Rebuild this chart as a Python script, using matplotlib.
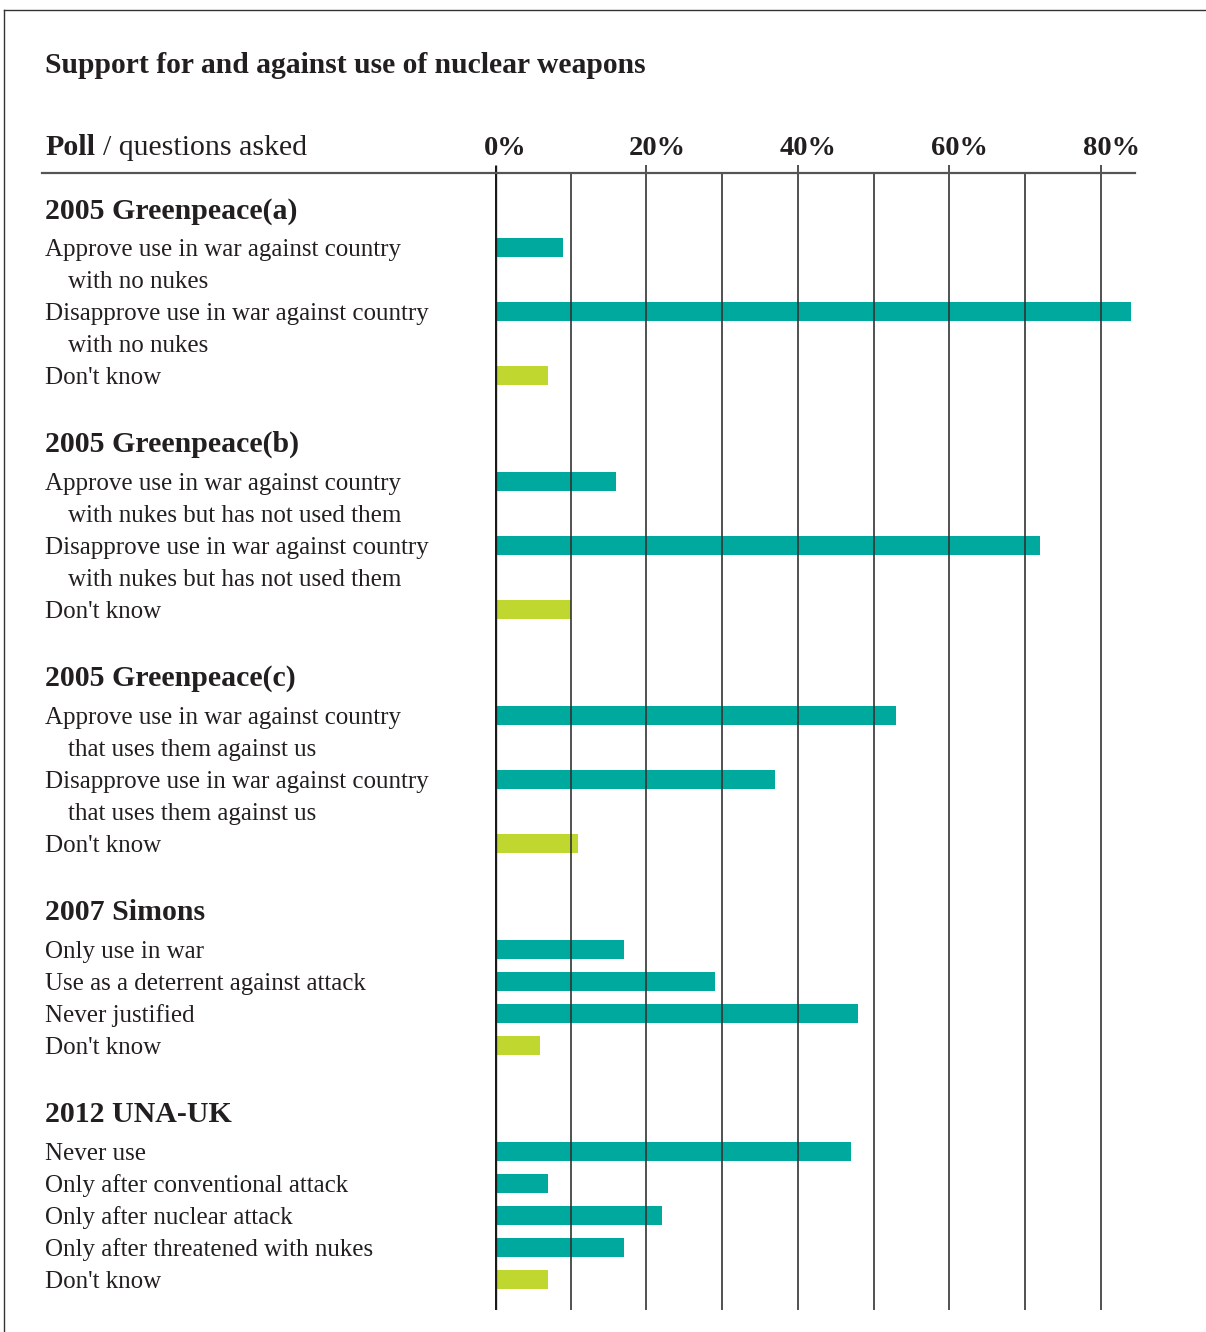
import matplotlib.pyplot as plt
from matplotlib.lines import Line2D

# data
groups = ["2005 Greenpeace(a)", "2005 Greenpeace(b)", "2005 Greenpeace(c)",
          "2007 Simons", "2012 UNA-UK"]
labels = [
    ["Approve use in war against country\nwith no nukes",
     "Disapprove use in war against country\nwith no nukes",
     "Don't know"],
    ["Approve use in war against country\nwith nukes but has not used them",
     "Disapprove use in war against country\nwith nukes but has not used them",
     "Don't know"],
    ["Approve use in war against country\nthat uses them against us",
     "Disapprove use in war against country\nthat uses them against us",
     "Don't know"],
    ["Only use in war", "Use as a deterrent against attack",
     "Never justified", "Don't know"],
    ["Never use", "Only after conventional attack", "Only after nuclear attack",
     "Only after threatened with nukes", "Don't know"],
]
values = [
    [9, 84, 7],
    [16, 72, 10],
    [53, 37, 11],
    [17, 29, 48, 6],
    [47, 7, 22, 17, 7],
]
tick_vals = [0, 20, 40, 60, 80]
tick_labels = ["0%", "20%", "40%", "60%", "80%"]

teal = "#00a99d"
lime = "#c0d72f"
ink = "#231f20"
serif = "Liberation Serif"

W, H = 1206, 1332
fig = plt.figure(figsize=(W / 100, H / 100), dpi=100)

def fx(x):
    return x / W

def fy(y):
    return 1 - y / H

# axes in pixel-like y units (top 165, bottom 1310)
top, bot = 165, 1310
ax = fig.add_axes([fx(495), fy(bot), (1135 - 495) / W, (bot - top) / H])
ax.set_xlim(0, 640 / 7.57)
ax.set_ylim(bot, top)
ax.axis("off")

# layout of rows
line_h = 32
y = 209
for gi, g in enumerate(groups):
    fig.text(fx(45), fy(y + 10), g, fontsize=21.5, fontweight="bold",
             family=serif, color=ink, va="baseline")
    y += 38 if gi == 0 else 39
    for li, (lab, v) in enumerate(zip(labels[gi], values[gi])):
        col = lime if lab == "Don't know" else teal
        ax.barh(y, v, height=19, color=col, zorder=2, linewidth=0)
        parts = lab.split("\n")
        for k, p in enumerate(parts):
            xoff = 45 if k == 0 else 68
            fig.text(fx(xoff), fy(y + 9 + k * line_h), p, fontsize=18,
                     family=serif, color=ink, va="baseline")
        if li < len(values[gi]) - 1:
            y += line_h * len(parts)
    y += 67

# grid lines over the bars
ax.vlines([10, 30, 50, 70], 173, bot, color="#333333", lw=1.2, zorder=3)
ax.vlines([20, 40, 60, 80], top, bot, color="#333333", lw=1.2, zorder=3)
ax.vlines([0], top, bot, color="#1a1a1a", lw=2.4, zorder=4)

# header
fig.add_artist(Line2D([fx(42), fx(1135)], [fy(172.5)] * 2, color="#555555", lw=1.6))
fig.text(fx(45), fy(73), "Support for and against use of nuclear weapons",
         fontsize=21.3, fontweight="bold", family=serif, color=ink, va="baseline")
fig.text(fx(45), fy(155), "Poll", fontsize=21.5, fontweight="bold",
         family=serif, color=ink, va="baseline")
fig.text(fx(103), fy(155), "/ questions asked", fontsize=21.5,
         family=serif, color=ink, va="baseline")
for v, s in zip(tick_vals, tick_labels):
    ax.text(v + 1.4, 155, s, fontsize=20.5, fontweight="bold", family=serif,
            color=ink, ha="center", va="baseline", clip_on=False)

# frame lines
fig.add_artist(Line2D([fx(4), 1], [fy(10)] * 2, color="#333333", lw=1))
fig.add_artist(Line2D([fx(4)] * 2, [fy(10), 0], color="#333333", lw=1))

fig.savefig("out.png", dpi=100)
